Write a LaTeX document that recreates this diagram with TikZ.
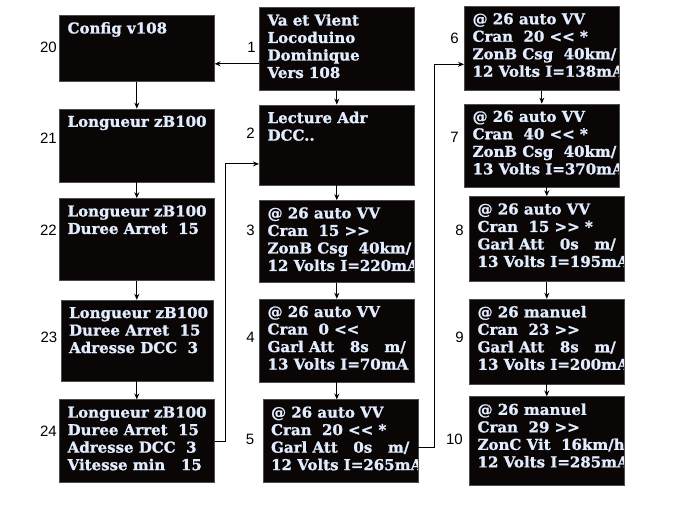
\documentclass[tikz,border=0pt]{standalone}
\usepackage{fontspec}
\usepackage{tikz}
\usetikzlibrary{arrows.meta, positioning, calc}

\newfontfamily\oledfont{DejaVu Serif}[BoldFeatures={FakeBold=1.2}]
\newfontfamily\numfont{Liberation Sans}
\definecolor{oledbg}{RGB}{10,6,6}
\definecolor{oledtext}{RGB}{226,236,255}

\begin{document}
\begin{tikzpicture}[
        x=1pt, y=-1pt,
        screen/.style={rectangle, fill=oledbg, draw=black!70, line width=0.6pt, minimum width=155pt, minimum height=82pt, inner sep=0pt,
            path picture={\node[scrtext] at ([xshift=8pt,yshift=-6.5pt]path picture bounding box.north west) {#1};}},
        scrtext/.style={font=\oledfont\bfseries\fontsize{15}{17.5}\selectfont, text=oledtext, align=left, inner sep=0pt, minimum width=0pt, minimum height=0pt, draw=none, fill=none, anchor=north west},
        num/.style={font=\numfont\fontsize{15}{18}\selectfont, inner sep=0pt},
        arr/.style={line width=1pt, -{Stealth[length=6pt, width=5pt]}}
        ]
        \useasboundingbox (0,0) rectangle (700,525);

        % Reglages (colonne gauche)
        \node (s20) [screen={Config v108}, minimum height=66pt, anchor=north west] at (59,15) {};
        \node (s21) [screen={Longueur zB100}, minimum height=73pt, below=27pt of s20] {};
        \node (s22) [screen={Longueur zB100\\Duree Arret~ 15}, below=16pt of s21] {};
        \node (s23) [screen={Longueur zB100\\Duree Arret~ 15\\Adresse DCC~ 3}, minimum width=152pt, minimum height=81pt, below=19pt of s22] {};
        \node (s24) [screen={Longueur zB100\\Duree Arret~ 15\\Adresse DCC~ 3\\Vitesse min~~~15}, minimum height=83pt, below=18pt of s23] {};

        % Demarrage (colonne milieu)
        \node (s1) [screen={Va et Vient\\Locoduino\\Dominique\\Vers 108}, minimum height=83pt, anchor=north west] at (259,7) {};
        \node (s2) [screen={Lecture Adr\\DCC..}, minimum height=80pt, below=14pt of s1] {};
        \node (s3) [screen={@ 26 auto VV\\Cran~ 15 >{}>\\ZonB Csg~ 40km/\\12 Volts I=220mA}, below=15pt of s2] {};
        \node (s4) [screen={@ 26 auto VV\\Cran~ 0 <{}<\\Garl Att~~ 8s~~ m/\\13 Volts I=70mA}, minimum height=83pt, below=16pt of s3] {};
        \node (s5) [screen={@ 26 auto VV\\Cran~ 20 <{}< *\\Garl Att~~ 0s~~ m/\\12 Volts I=265mA}, minimum height=83pt, below=17pt of s4, xshift=3.5pt] {};

        % Va et vient (colonne droite)
        \node (s6) [screen={@ 26 auto VV\\Cran~ 20 <{}< *\\ZonB Csg~ 40km/\\12 Volts I=138mA}, minimum height=84pt, anchor=north west] at (464,6) {};
        \node (s7) [screen={@ 26 auto VV\\Cran~ 40 <{}< *\\ZonB Csg~ 40km/\\13 Volts I=370mA}, minimum height=83pt, below=13pt of s6] {};
        \node (s8) [screen={@ 26 auto VV\\Cran~ 15 >{}> *\\Garl Att~~ 0s~~ m/\\13 Volts I=195mA}, minimum height=85pt, below=9pt of s7, xshift=5pt] {};
        \node (s9) [screen={@ 26 manuel\\Cran~ 23 >{}>\\Garl Att~~ 8s~~ m/\\13 Volts I=200mA}, minimum height=85pt, below=17pt of s8] {};
        \node (s10) [screen={@ 26 manuel\\Cran~ 29 >{}>\\ZonC Vit~ 16km/h\\12 Volts I=285mA}, minimum height=89pt, below=12pt of s9] {};

        % Numeros
        \node[num, left=2pt of s20, yshift=1pt] {20};
        \node[num, left=2pt of s21, yshift=7.5pt] {21};
        \node[num, left=2pt of s22, yshift=9pt] {22};
        \node[num, left=3pt of s23, yshift=3.5pt] {23};
        \node[num, left=2pt of s24, yshift=9.5pt] {24};
        \node[num, left=3pt of s1, yshift=1.5pt] {1};
        \node[num, left=4pt of s2, yshift=12pt] {2};
        \node[num, left=4pt of s3, yshift=11pt] {3};
        \node[num, left=4pt of s4, yshift=3.5pt] {4};
        \node[num, left=8pt of s5, yshift=1.5pt] {5};
        \node[num, left=5pt of s6, yshift=9.5pt] {6};
        \node[num, left=5pt of s7, yshift=8.5pt] {7};
        \node[num, left=5pt of s8, yshift=8.5pt] {8};
        \node[num, left=5pt of s9, yshift=4.5pt] {9};
        \node[num, left=6pt of s10, yshift=1.5pt] {10};

        % Fleches
        \draw[arr] ([yshift=-15pt]s1.west) -- ([yshift=-15pt]s1.west -| s20.east);
        \draw[arr] (s20) -- (s21);
        \draw[arr] (s21) -- (s22);
        \draw[arr] (s22) -- (s23);
        \draw[arr] (s23) -- (s24);
        \draw[arr] (s24.east) -- ++(11,0) |- ([yshift=-19pt]s2.west);

        \draw[arr] (s1) -- (s2);
        \draw[arr] (s2) -- (s3);
        \draw[arr] (s3) -- (s4);
        \draw[arr] (s4) -- (s4 |- s5.north);
        \draw[arr] ([yshift=-6pt]s5.east) -- ++(16,0) |- ([yshift=-16pt]s6.west);

        \draw[arr] (s6) -- (s7);
        \draw[arr] (s7.south -| s8) -- (s8);
        \draw[arr] (s8) -- (s9);
        \draw[arr] (s9) -- (s10);

    \end{tikzpicture}
\end{document}
